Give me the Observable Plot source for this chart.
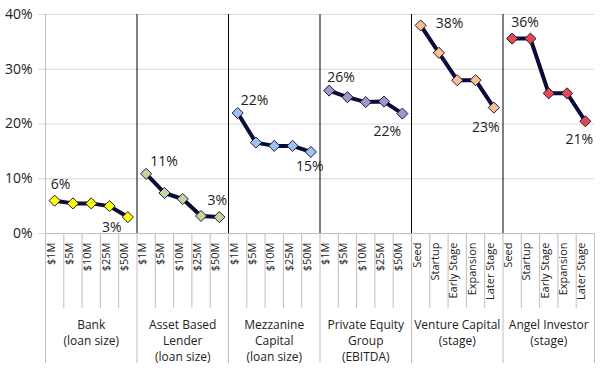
<!DOCTYPE html>
<html>
<head>
<meta charset="utf-8">
<script src="https://cdn.jsdelivr.net/npm/d3@7"></script>
<script src="https://cdn.jsdelivr.net/npm/@observablehq/plot@0.6"></script>
<style>
  html, body { margin: 0; padding: 0; background: #fff; }
  #chart svg { display: block; }
</style>
</head>
<body>
<div id="chart"></div>
<script>
// ---- data ----
const groupNames = ["Bank", "Asset Based Lender", "Mezzanine Capital", "Private Equity Group", "Venture Capital", "Angel Investor"];
const groupLabels = [
  ["Bank", "(loan size)"],
  ["Asset Based", "Lender", "(loan size)"],
  ["Mezzanine", "Capital", "(loan size)"],
  ["Private Equity", "Group", "(EBITDA)"],
  ["Venture Capital", "(stage)"],
  ["Angel Investor", "(stage)"]
];
const loanSizes = ["$1M", "$5M", "$10M", "$25M", "$50M"];
const stages = ["Seed", "Startup", "Early Stage", "Expansion", "Later Stage"];
const groupCategories = [loanSizes, loanSizes, loanSizes, loanSizes, stages, stages];

// values in percent
const bank = [6.0, 5.5, 5.5, 5.0, 3.0];
const assetBased = [10.9, 7.4, 6.3, 3.2, 3.0];
const mezzanine = [22.0, 16.6, 16.0, 16.0, 14.9];
const privateEquity = [26.1, 24.9, 24.0, 24.1, 21.9];
const ventureCapital = [38.0, 33.0, 28.0, 28.0, 23.0];
const angelInvestor = [35.6, 35.6, 25.6, 25.6, 20.5];
const seriesValues = [bank, assetBased, mezzanine, privateEquity, ventureCapital, angelInvestor];

const yTicks = [0, 10, 20, 30, 40];

// ---- styles ----
const markerColors = ["#FFFF00", "#C4D79B", "#9DC3F2", "#A097C6", "#FAC08F", "#E8474C"];
// label offsets (px) for first & last point labels of each group
const firstLabelOffset = [[6, -16], [18, -12], [17, -13], [12, -13], [29, -2], [13, -16]];
const lastLabelOffset = [[-16, 10], [-2, -17], [-1, 15], [-15, 18], [-8, 20], [-6, 18]];

// ---- build table ----
const nPer = 5;
const rows = [];
seriesValues.forEach((vals, g) => {
  vals.forEach((v, j) => {
    rows.push({
      group: groupNames[g],
      gi: g,
      idx: j,
      pos: g * nPer + j + 0.5,
      cat: groupCategories[g][j],
      value: v / 100,
      label: Math.round(v) + "%",
      color: markerColors[g]
    });
  });
});
const nCats = rows.length;
const groupBounds = d3.range(0, groupNames.length + 1).map(g => g * nPer);
const minorBounds = d3.range(0, nCats + 1).filter(i => i % nPer !== 0);
const groupCenters = groupLabels.map((lines, g) => ({pos: g * nPer + nPer / 2, text: lines.join("\n")}));

const font = "'Open Sans', 'DejaVu Sans', sans-serif";
const textColor = "#222";

const labelMarks = [];
groupNames.forEach((name, g) => {
  const gr = rows.filter(r => r.gi === g);
  const first = gr[0], last = gr[gr.length - 1];
  labelMarks.push(Plot.text([first], {x: "pos", y: "value", text: "label", dx: firstLabelOffset[g][0], dy: firstLabelOffset[g][1], fontSize: 14, fill: textColor}));
  labelMarks.push(Plot.text([last], {x: "pos", y: "value", text: "label", dx: lastLabelOffset[g][0], dy: lastLabelOffset[g][1], fontSize: 14, fill: textColor}));
});

const chart = Plot.plot({
  width: 600,
  height: 369,
  marginLeft: 45,
  marginRight: 6,
  marginTop: 14,
  marginBottom: 136,
  style: {fontFamily: font, background: "#fff"},
  x: {domain: [0, nCats], axis: null},
  y: {domain: [0, 0.4], axis: null},
  color: {type: "identity"},
  marks: [
    // horizontal gridlines
    Plot.ruleY(yTicks.map(t => t / 100), {stroke: "#d9d9d9", strokeWidth: 1, insetLeft: -7}),
    // y axis labels
    Plot.text(yTicks, {y: d => d / 100, text: d => d + "%", frameAnchor: "left", textAnchor: "end", dx: -13, fontSize: 14, fill: textColor}),
    // left axis line
    Plot.ruleX([0], {stroke: "#bfbfbf"}),
    // group separators in plot (black)
    Plot.ruleX(groupBounds.slice(1, -1), {stroke: "#000", strokeWidth: 1}),
    // group separators below plot
    Plot.ruleX(groupBounds, {y1: 0, y2: 0, insetBottom: -130, stroke: "#bfbfbf"}),
    // minor category separators below plot
    Plot.ruleX(minorBounds, {y1: 0, y2: 0, insetBottom: -75, stroke: "#bfbfbf"}),
    // baseline
    Plot.ruleY([0], {stroke: "#bfbfbf"}),
    // lines
    Plot.line(rows, {x: "pos", y: "value", z: "group", stroke: "#0b0b3b", strokeWidth: 4, strokeLinejoin: "round"}),
    // markers
    Plot.dot(rows, {x: "pos", y: "value", symbol: "diamond2", r: 5, fill: "color", stroke: "#1b1b45", strokeWidth: 1}),
    // data labels
    ...labelMarks,
    // category tick labels
    Plot.text(rows, {x: "pos", text: "cat", frameAnchor: "bottom", rotate: -90, textAnchor: "end", dy: 9, fontSize: 11, fill: textColor}),
    // group labels
    Plot.text(groupCenters, {x: "pos", text: "text", frameAnchor: "bottom", lineAnchor: "top", dy: 84, fontSize: 12, lineHeight: 1.33, fill: textColor})
  ]
});
document.getElementById("chart").appendChild(chart);
</script>
</body>
</html>
